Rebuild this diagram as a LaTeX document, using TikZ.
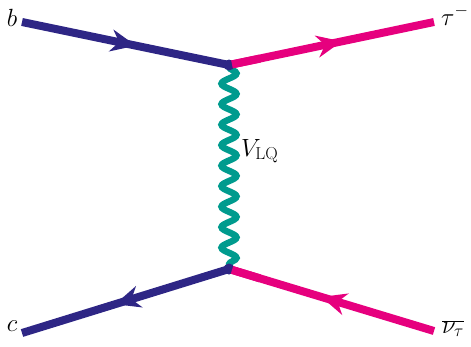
\documentclass[tikz,border=0pt]{standalone}
\usetikzlibrary{decorations.pathmorphing,decorations.markings,arrows.meta}
\definecolor{quarkblue}{RGB}{46,38,133}
\definecolor{leptonpink}{RGB}{230,0,126}
\definecolor{lqteal}{RGB}{0,155,142}
\tikzset{
  fermion/.style={line width=8pt,
    postaction={decorate},
    decoration={markings,mark=at position 0.55 with {\arrow{Stealth[length=25pt,width=22pt,inset=8pt]}}}},
  antifermion/.style={line width=8pt,
    postaction={decorate},
    decoration={markings,mark=at position 0.45 with {\arrowreversed{Stealth[length=25pt,width=22pt,inset=8pt]}}}},
  boson/.style={line width=6.5pt,decorate,
    decoration={snake,segment length=20.5pt,amplitude=7.5pt,pre length=2pt,post length=2pt}},
  lbl/.style={font=\fontsize{24}{29}\selectfont,inner sep=0pt},
  vtx/.style={circle,fill=quarkblue,inner sep=0pt,minimum size=11pt}
}
\begin{document}
\begin{tikzpicture}[x=1pt,y=-1pt]
\useasboundingbox (0,0) rectangle (471,346);
\coordinate (b) at (22,22);
\coordinate (tau) at (434,22);
\coordinate (c) at (22,333);
\coordinate (nu) at (434,331);
\coordinate (v1) at (229,65);
\coordinate (v2) at (229,269);
% leptoquark propagator
\draw[boson,lqteal] (v1) -- (v2);
% incoming quarks
\draw[fermion,quarkblue] (b) -- (v1);
\draw[antifermion,quarkblue] (c) -- (v2);
% outgoing leptons
\draw[fermion,leptonpink] (v1) -- (tau);
\draw[antifermion,leptonpink] (v2) -- (nu);
% vertices
\node[vtx] (n1) at (v1) {};
\node[vtx] (n2) at (v2) {};
\draw[line width=8pt,leptonpink] (232,64.4) -- (260,58.6);
\draw[line width=8pt,leptonpink] (232,269.9) -- (260,278.4);
% labels
\node[lbl,anchor=base] (lb) at (12,26) {$b$};
\node[lbl,anchor=base west] (ltau) at (441,25) {$\tau^-$};
\node[lbl,anchor=base] (lc) at (12,331) {$c$};
\node[lbl,anchor=base west] (lnu) at (442,333) {$\overline{\nu_\tau}$};
\node[lbl,anchor=base west] (lv) at (241,156) {$V_{\mathrm{LQ}}$};
\end{tikzpicture}
\end{document}
